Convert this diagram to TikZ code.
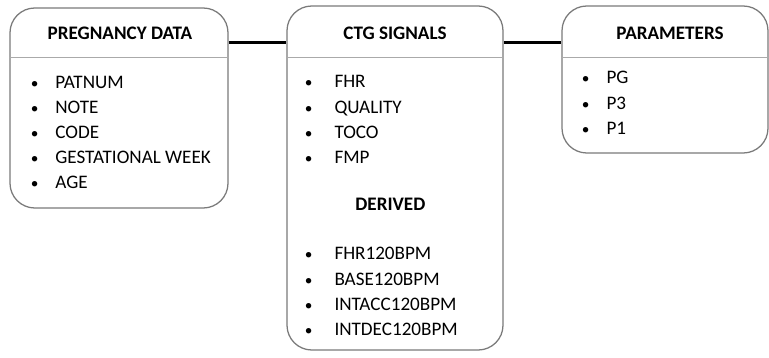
\documentclass[tikz,border=0pt]{standalone}
\usepackage{fontspec}
\setmainfont{Carlito}
\usetikzlibrary{positioning}

\definecolor{boxgray}{RGB}{122,122,122}
\definecolor{linegray}{RGB}{170,170,170}
\newcommand{\itm}[1][6.4mm]{\makebox[#1][l]{\hspace{0.3mm}\scalebox{0.8}{\textbullet}}}

\begin{document}
\begin{tikzpicture}[
    table node/.style={rectangle, draw=boxgray, line width=0.9pt, rounded corners=0.62cm, inner sep=0pt},
    title node/.style={anchor=base, font=\fontsize{13.6}{17.8}\selectfont\bfseries, inner sep=0pt},
    list node/.style={anchor=base west, inner sep=0pt, font=\fontsize{13.6}{17.8}\selectfont},
    divider/.style={draw=linegray, line width=0.6pt},
    link/.style={line width=1.7pt, black}
    ]

    \useasboundingbox (0,0) rectangle (19.225,8.95);

    % tables
    \node[table node, minimum width=5.45cm, minimum height=5.0cm] (PD) at (2.975,6.25) {};
    \node[table node, minimum width=5.4cm, minimum height=8.6cm] (CTG) at (9.875,4.5) {};
    \node[table node, minimum width=5.15cm, minimum height=3.675cm] (PAR) at (16.625,6.9625) {};

    % header lines
    \coordinate (D) at (0,7.525);
    \draw[divider] (PD.west |- D) -- (PD.east |- D);
    \draw[divider] (CTG.west |- D) -- (CTG.east |- D);
    \draw[divider] (PAR.west |- D) -- (PAR.east |- D);

    % titles
    \node[title node] (PDT) at (3.0,7.95) {PREGNANCY DATA};
    \node[title node] (CTGT) at (9.875,7.95) {CTG SIGNALS};
    \node[title node] (PART) at (16.75,7.95) {PARAMETERS};
    \node[title node] (DER) at (9.76,3.68) {DERIVED};

    % lists
    \node[list node] (PDL) at (0.7375,6.74) {%
        \begin{tabular}[t]{@{}l@{}}
        \itm PATNUM\\ \itm NOTE\\ \itm CODE\\ \itm GESTATIONAL WEEK\\ \itm AGE
        \end{tabular}};
    \node[list node] (CTGL) at (7.5875,6.75) {%
        \begin{tabular}[t]{@{}l@{}}
        \itm[6.6mm] FHR\\ \itm[6.6mm] QUALITY\\ \itm[6.6mm] TOCO\\ \itm[6.6mm] FMP
        \end{tabular}};
    \node[list node] (DERL) at (7.5875,2.45) {%
        \begin{tabular}[t]{@{}l@{}}
        \itm[6.6mm] FHR120BPM\\ \itm[6.6mm] BASE120BPM\\ \itm[6.6mm] INTACC120BPM\\ \itm[6.6mm] INTDEC120BPM
        \end{tabular}};
    \node[list node] (PARL) at (14.51,6.85) {%
        \begin{tabular}[t]{@{}l@{}}
        \itm[5.4mm] PG\\ \itm[5.4mm] P3\\ \itm[5.4mm] P1
        \end{tabular}};

    % links
    \coordinate (J) at (0,7.89);
    \draw[link] (PD.east |- J) -- (CTG.west |- J);
    \draw[link] (CTG.east |- J) -- (PAR.west |- J);

\end{tikzpicture}
\end{document}
